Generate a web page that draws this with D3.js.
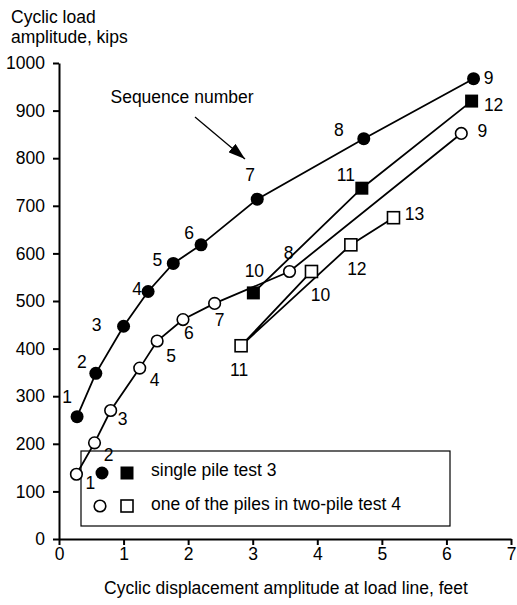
<!DOCTYPE html>
<html>
<head>
<meta charset="utf-8">
<script src="https://cdn.jsdelivr.net/npm/d3@7"></script>
<style>
  html, body { margin: 0; padding: 0; background: #fff; }
  text { font-family: "Liberation Sans", Arial, sans-serif; fill: #000; }
</style>
</head>
<body>
<svg id="chart" width="517" height="605"></svg>
<script>
// ---- data ----
const singleCircleX = [0.28, 0.57, 1.00, 1.38, 1.77, 2.20, 3.07, 4.72, 6.42];
const singleCircleY = [257, 348, 447, 520, 579, 618, 714, 841, 967];
const singleCircleSeq = ["1","2","3","4","5","6","7","8","9"];

const singleSquareX = [3.01, 4.69, 6.39];
const singleSquareY = [517, 737, 920];
const singleSquareSeq = ["10","11","12"];

const twoCircleX = [0.27, 0.55, 0.80, 1.25, 1.52, 1.92, 2.41, 3.57, 6.23];
const twoCircleY = [136, 202, 270, 359, 416, 461, 495, 562, 852];
const twoCircleSeq = ["1","2","3","4","5","6","7","8","9"];

const twoSquareX = [3.91, 2.82, 4.52, 5.18];
const twoSquareY = [562, 406, 618, 675];
const twoSquareSeq = ["10","11","12","13"];

const xTicks = [0, 1, 2, 3, 4, 5, 6, 7];
const yTicks = [0, 100, 200, 300, 400, 500, 600, 700, 800, 900, 1000];
const legendLabels = ["single pile test 3", "one of the piles in two-pile test 4"];

// ---- label offsets (layout, px) ----
const offSingleCircle = [[-10,-20],[-14,-12],[-27,-2],[-11,-3],[-16,-4],[-12,-12],[-7,-24],[-25,-9],[15,-1]];
const offSingleSquare = [[1,-22],[-16,-13],[22,4]];
const offTwoCircle = [[14,8],[14,12],[12,8],[15,12],[14,15],[6,13],[5,16],[-1,-19],[21,-3]];
const offTwoSquare = [[9,23],[-2,24],[6,24],[21,-4]];

const FS = 17.5;
const svg = d3.select("#chart");
const x = d3.scaleLinear().domain([0, 7]).range([59, 511]);
const y = d3.scaleLinear().domain([0, 1000]).range([539, 63]);

// legend box (drawn first, behind data)
svg.append("rect").attr("x", 81).attr("y", 451).attr("width", 369).attr("height", 75)
  .attr("fill", "none").attr("stroke", "#000").attr("stroke-width", 1.2);

// axes
const yAxis = d3.axisLeft(y).tickValues(yTicks).tickSize(6).tickSizeOuter(0).tickPadding(8).tickFormat(d3.format("d"));
const gy = svg.append("g").attr("transform", `translate(${x(0)},0)`).call(yAxis);
const xAxis = d3.axisBottom(x).tickValues(xTicks).tickSize(6).tickSizeOuter(0).tickPadding(3).tickFormat(d3.format("d"));
const gx = svg.append("g").attr("transform", `translate(0,${y(0)})`).call(xAxis);
[gx, gy].forEach(g => {
  g.select(".domain").attr("stroke", "#000").attr("stroke-width", 2);
  g.selectAll(".tick line").attr("stroke", "#000").attr("stroke-width", 2);
  g.selectAll(".tick text").style("font-size", FS + "px").style("font-family", '"Liberation Sans", Arial, sans-serif');
});

// axis titles
svg.append("text").attr("x", 11).attr("y", 23).style("font-size", FS + "px").text("Cyclic load");
svg.append("text").attr("x", 11).attr("y", 43).style("font-size", FS + "px").text("amplitude, kips");
svg.append("text").attr("x", 286).attr("y", 594).attr("text-anchor", "middle").style("font-size", FS + "px")
  .text("Cyclic displacement amplitude at load line, feet");

// annotation
svg.append("text").attr("x", 182).attr("y", 103).attr("text-anchor", "middle").style("font-size", FS + "px").text("Sequence number");
const defs = svg.append("defs");
defs.append("marker").attr("id", "arr").attr("viewBox", "0 0 10 10").attr("refX", 10).attr("refY", 5)
  .attr("markerWidth", 17).attr("markerHeight", 11).attr("markerUnits", "userSpaceOnUse").attr("orient", "auto")
  .attr("preserveAspectRatio", "none")
  .append("path").attr("d", "M0,0 L10,5 L0,10 Z").attr("fill", "#000");
svg.append("line").attr("x1", 195).attr("y1", 117).attr("x2", 245).attr("y2", 159)
  .attr("stroke", "#000").attr("stroke-width", 1.3).attr("marker-end", "url(#arr)");

// series
const line = d3.line().x(d => x(d[0])).y(d => y(d[1]));
function series(xs, ys, seq, offs, shape, filled) {
  const pts = xs.map((v, i) => [v, ys[i]]);
  svg.append("path").attr("d", line(pts)).attr("fill", "none").attr("stroke", "#000").attr("stroke-width", 1.8);
  const g = svg.append("g");
  pts.forEach((p, i) => {
    if (shape === "circle") {
      g.append("circle").attr("cx", x(p[0])).attr("cy", y(p[1])).attr("r", filled ? 6.5 : 5.8)
        .attr("fill", filled ? "#000" : "#fff").attr("stroke", "#000").attr("stroke-width", filled ? 0 : 1.6);
    } else {
      const s = filled ? 13 : 12;
      g.append("rect").attr("x", x(p[0]) - s / 2).attr("y", y(p[1]) - s / 2).attr("width", s).attr("height", s)
        .attr("fill", filled ? "#000" : "#fff").attr("stroke", "#000").attr("stroke-width", filled ? 0 : 1.6);
    }
    g.append("text").attr("x", x(p[0]) + offs[i][0]).attr("y", y(p[1]) + offs[i][1]).attr("dy", "0.36em")
      .attr("text-anchor", "middle").style("font-size", FS + "px").text(seq[i]);
  });
}
series(twoSquareX, twoSquareY, twoSquareSeq, offTwoSquare, "square", false);
series(twoCircleX, twoCircleY, twoCircleSeq, offTwoCircle, "circle", false);
series(singleSquareX, singleSquareY, singleSquareSeq, offSingleSquare, "square", true);
series(singleCircleX, singleCircleY, singleCircleSeq, offSingleCircle, "circle", true);

// legend content
const lg = svg.append("g");
lg.append("circle").attr("cx", 102).attr("cy", 473).attr("r", 6.5).attr("fill", "#000");
lg.append("rect").attr("x", 120.5).attr("y", 466.5).attr("width", 13).attr("height", 13).attr("fill", "#000");
lg.append("circle").attr("cx", 100).attr("cy", 506).attr("r", 5.8).attr("fill", "#fff").attr("stroke", "#000").attr("stroke-width", 1.6);
lg.append("rect").attr("x", 121).attr("y", 500).attr("width", 12).attr("height", 12).attr("fill", "#fff").attr("stroke", "#000").attr("stroke-width", 1.6);
legendLabels.forEach((t, i) => {
  lg.append("text").attr("x", 151).attr("y", 476 + i * 34).style("font-size", FS + "px").text(t);
});
</script>
</body>
</html>
